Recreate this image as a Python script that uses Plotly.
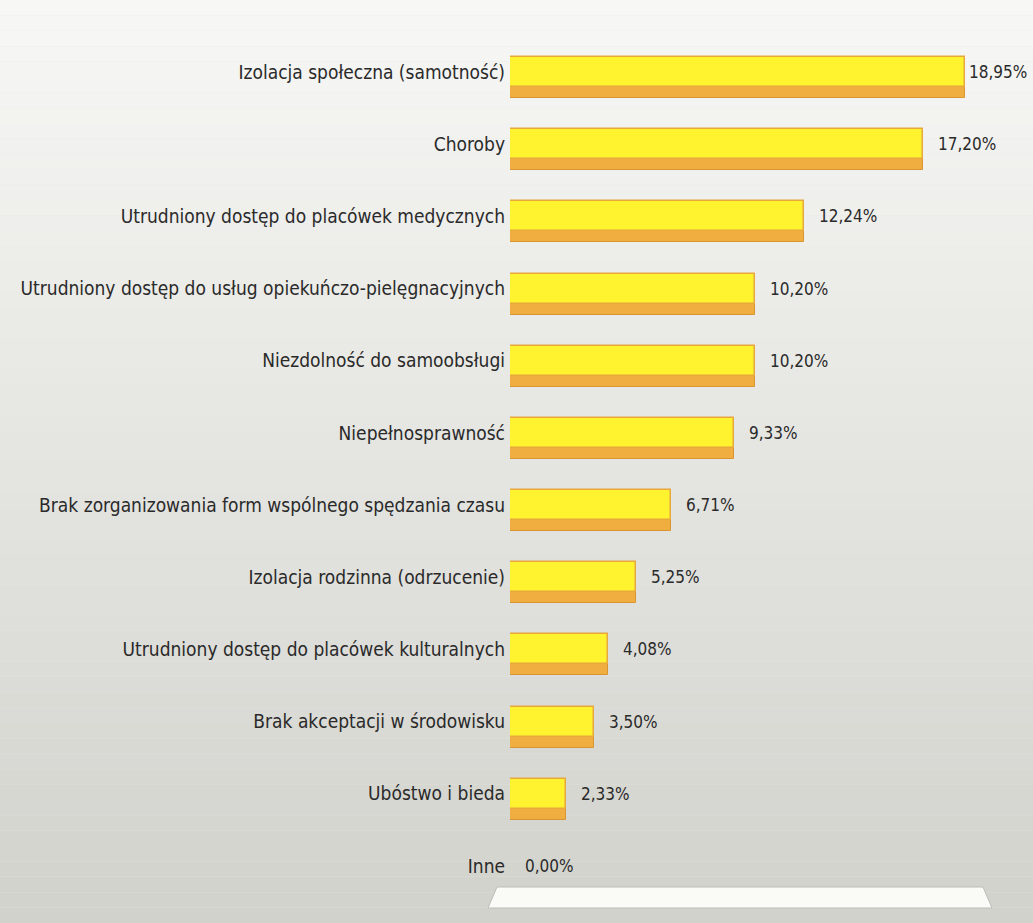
import plotly.graph_objects as go

categories = [
    "Izolacja społeczna (samotność)",
    "Choroby",
    "Utrudniony dostęp do placówek medycznych",
    "Utrudniony dostęp do usług opiekuńczo-pielęgnacyjnych",
    "Niezdolność do samoobsługi",
    "Niepełnosprawność",
    "Brak zorganizowania form wspólnego spędzania czasu",
    "Izolacja rodzinna (odrzucenie)",
    "Utrudniony dostęp do placówek kulturalnych",
    "Brak akceptacji w środowisku",
    "Ubóstwo i bieda",
    "Inne",
]
values = [18.95, 17.20, 12.24, 10.20, 10.20, 9.33, 6.71, 5.25, 4.08, 3.50, 2.33, 0.00]
value_labels = ["18,95%", "17,20%", "12,24%", "10,20%", "10,20%", "9,33%",
                "6,71%", "5,25%", "4,08%", "3,50%", "2,33%", "0,00%"]

W, H = 1033, 923
FONT = "DejaVu Sans Condensed, Liberation Sans Narrow, sans-serif"

fig = go.Figure()

# depth face (orange) behind
fig.add_trace(go.Bar(
    x=values, y=categories, orientation="h",
    width=0.36, offset=0.0,
    marker=dict(color="#F0AE40", line=dict(color="#DA9530", width=1)),
    hoverinfo="skip", showlegend=False,
))
# front face (yellow)
fig.add_trace(go.Bar(
    x=values, y=categories, orientation="h",
    width=0.415, offset=-0.207,
    marker=dict(color="#FFF22E", line=dict(color="#E8A83C", width=1.5)),
    showlegend=False,
))

# value labels as annotations anchored at the bar ends
annotations = []
for i, (v, c, t) in enumerate(zip(values, categories, value_labels)):
    annotations.append(dict(
        x=v, y=c, xref="x", yref="y", text=t, showarrow=False,
        xanchor="left", yanchor="middle", xshift=2 if i == 0 else 13,
        font=dict(family=FONT, size=17, color="#2a2a2a"),
    ))

# background gradient (horizontal strips)
shapes = []
n = 60
top = (247, 247, 245)
bot = (210, 210, 205)
for i in range(n):
    t = i / (n - 1)
    c = tuple(round(top[k] + (bot[k] - top[k]) * t) for k in range(3))
    shapes.append(dict(
        type="rect", xref="paper", yref="paper",
        x0=0, x1=1, y0=1 - (i + 1) / n, y1=1 - i / n,
        fillcolor="rgb(%d,%d,%d)" % c, line=dict(width=0), layer="below",
    ))

def px(x):
    return x / W

def py(y):
    return 1 - y / H

# floor plane
shapes.append(dict(
    type="path", xref="paper", yref="paper",
    path="M %f %f L %f %f L %f %f L %f %f Z" % (
        px(497), py(887), px(983), py(887), px(992), py(908), px(488), py(908)),
    fillcolor="#FAFAF7", line=dict(color="#BDBDB8", width=1), layer="below",
))

x0 = 510
ppu = 24.0
xmax = 21
fig.update_layout(
    width=W, height=H,
    margin=dict(l=0, r=0, t=0, b=0),
    paper_bgcolor="#e6e6e3",
    plot_bgcolor="rgba(0,0,0,0)",
    barmode="overlay",
    bargap=0,
    shapes=shapes,
    annotations=annotations,
    font=dict(family=FONT, color="#2a2a2a"),
    xaxis=dict(
        domain=[x0 / W, (x0 + xmax * ppu) / W], range=[0, xmax],
        showgrid=False, zeroline=False, showticklabels=False, ticks="",
        showline=False, fixedrange=True,
    ),
    yaxis=dict(
        domain=[1 - 902 / H, 1 - 36 / H],
        range=[len(categories) - 0.5, -0.5], type="category",
        showgrid=False, zeroline=False, showline=False, ticks="",
        tickfont=dict(family=FONT, size=19, color="#2a2a2a"),
        ticklabelstandoff=4, automargin=False, fixedrange=True,
    ),
)

fig.write_html(
    "out.html",
    config={"displayModeBar": False},
    post_script="document.body.style.margin='0';document.body.style.overflow='hidden';",
)
